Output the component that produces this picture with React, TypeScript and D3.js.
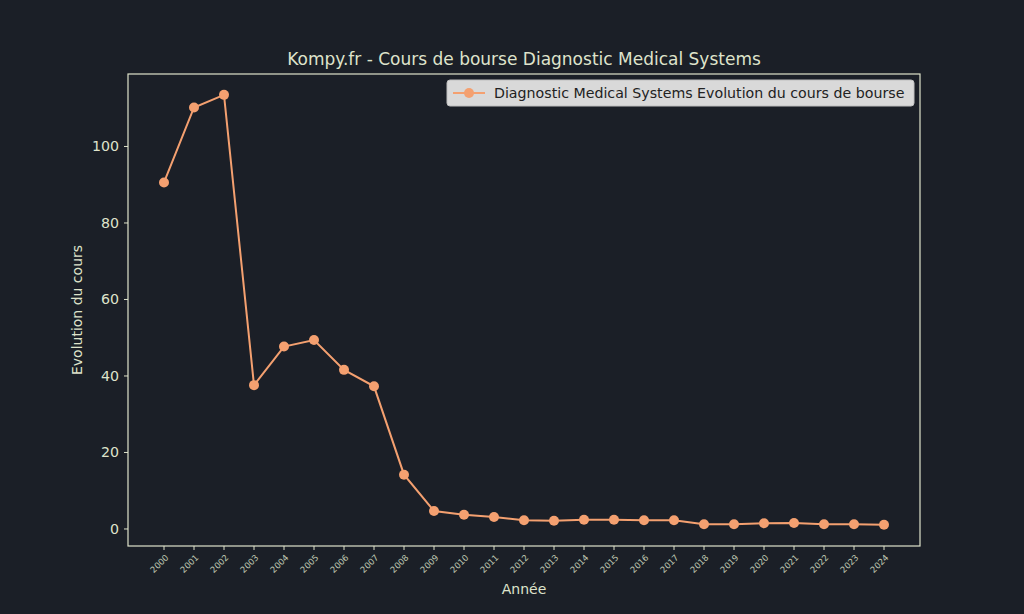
import React from "react";
import * as d3 from "d3";

const years = [
  "2000", "2001", "2002", "2003", "2004", "2005", "2006", "2007", "2008", "2009",
  "2010", "2011", "2012", "2013", "2014", "2015", "2016", "2017", "2018", "2019",
  "2020", "2021", "2022", "2023", "2024",
];
const cours = [
  90.6, 110.2, 113.5, 37.6, 47.7, 49.4, 41.6, 37.3, 14.2, 4.7,
  3.74, 3.14, 2.27, 2.17, 2.43, 2.43, 2.27, 2.27, 1.23, 1.23,
  1.49, 1.57, 1.23, 1.23, 1.12,
];
const yTicks = [0, 20, 40, 60, 80, 100];

const W = 1024;
const H = 614;
const left = 128, right = 920, top = 74, bottom = 546;
const bg = "#1b1f27";
const fg = "#dfe3cb";
const orange = "#f4a070";
const font = "'DejaVu Sans', sans-serif";

export default function App() {
  const x = d3.scaleLinear().domain([-1.2, years.length - 1 + 1.2]).range([left, right]);
  const y = d3.scaleLinear().domain([-4.45, 118.95]).range([bottom, top]);
  const line = d3.line<number>().x((_, i) => x(i)).y((d) => y(d));

  return (
    <svg width={W} height={H} style={{ display: "block", position: "absolute", left: 0, top: 0, background: bg }}>
      <rect width={W} height={H} fill={bg} />
      <text x={(left + right) / 2} y={65} textAnchor="middle" fill={fg} fontFamily={font} fontSize={17}>
        Kompy.fr - Cours de bourse Diagnostic Medical Systems
      </text>

      {/* y axis */}
      {yTicks.map((t) => (
        <g key={t} transform={`translate(0,${y(t)})`}>
          <line x1={left - 4} x2={left} stroke={fg} strokeWidth={1} />
          <text x={left - 9} dy="0.35em" textAnchor="end" fill={fg} fontFamily={font} fontSize={14.2}>
            {t}
          </text>
        </g>
      ))}
      <text
        transform={`translate(82,${(top + bottom) / 2}) rotate(-90)`}
        textAnchor="middle"
        fill={fg}
        fontFamily={font}
        fontSize={14}
      >
        Evolution du cours
      </text>

      {/* x axis */}
      {years.map((yr, i) => (
        <g key={yr} transform={`translate(${x(i)},${bottom})`}>
          <line y1={0} y2={4} stroke={fg} strokeWidth={1} />
          <text
            transform="translate(3,10) rotate(-45)"
            textAnchor="end"
            dy="0.35em"
            fill={fg}
            opacity={0.85}
            fontFamily={font}
            fontSize={8.5}
          >
            {yr}
          </text>
        </g>
      ))}
      <text x={(left + right) / 2} y={594} textAnchor="middle" fill={fg} fontFamily={font} fontSize={14}>
        Année
      </text>

      <rect x={left} y={top} width={right - left} height={bottom - top} fill="none" stroke={fg} strokeWidth={1.2} />

      <path d={line(cours) ?? ""} fill="none" stroke={orange} strokeWidth={2} />
      {cours.map((v, i) => (
        <circle key={i} cx={x(i)} cy={y(v)} r={5} fill={orange} />
      ))}

      {/* legend */}
      <g transform="translate(447,80)">
        <rect width={467} height={26} rx={3} fill="#d9d9d9" stroke="#bfbfbf" />
        <line x1={6} x2={38} y1={13} y2={13} stroke={orange} strokeWidth={2} />
        <circle cx={22} cy={13} r={5} fill={orange} />
        <text x={47} y={13} dy="0.35em" fill="#222" fontFamily={font} fontSize={14.2}>
          Diagnostic Medical Systems Evolution du cours de bourse
        </text>
      </g>
    </svg>
  );
}
